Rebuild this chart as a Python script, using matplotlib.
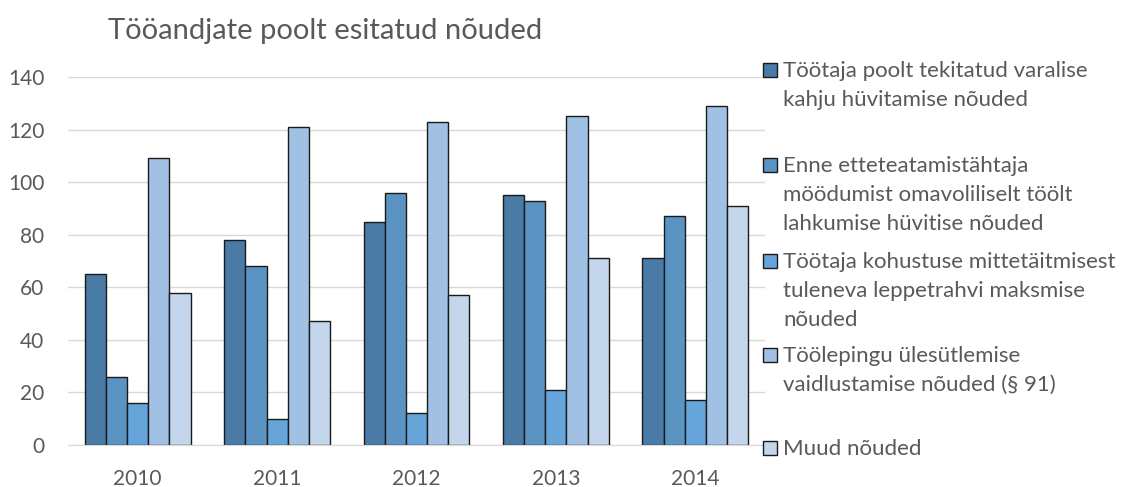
import matplotlib
matplotlib.use("Agg")
import matplotlib.pyplot as plt
from matplotlib.patches import Rectangle
import numpy as np

years = ["2010", "2011", "2012", "2013", "2014"]
series_labels = [
    "Töötaja poolt tekitatud varalise\nkahju hüvitamise nõuded",
    "Enne etteteatamistähtaja\nmöödumist omavoliliselt töölt\nlahkumise hüvitise nõuded",
    "Töötaja kohustuse mittetäitmisest\ntuleneva leppetrahvi maksmise\nnõuded",
    "Töölepingu ülesütlemise\nvaidlustamise nõuded (§ 91)",
    "Muud nõuded",
]
kahju = [65, 78, 85, 95, 71]
omavoliline = [26, 68, 96, 93, 87]
leppetrahv = [16, 10, 12, 21, 17]
ulesutlemine = [109, 121, 123, 125, 129]
muud = [58, 47, 57, 71, 91]
series = [kahju, omavoliline, leppetrahv, ulesutlemine, muud]
colors = ["#4A7BA7", "#5B93C3", "#66A5DA", "#A1C1E4", "#C4D6EC"]
yticks = [0, 20, 40, 60, 80, 100, 120, 140]

FONT = "Lato"
GREY = "#595959"

fig = plt.figure(figsize=(11.23, 4.87), dpi=100)
ax = fig.add_axes([68 / 1123, 1 - 445 / 487, (765 - 68) / 1123, (445 - 77) / 487])

x = np.arange(len(years))
bw = 0.152
n = len(series)
for i, (vals, col) in enumerate(zip(series, colors)):
    offs = (i - (n - 1) / 2) * bw
    ax.bar(x + offs, vals, width=bw, color=col, edgecolor="#1A1A1A",
           linewidth=1.0, zorder=3)

ax.set_xlim(-0.5, len(years) - 0.5)
ax.set_ylim(0, 140)
ax.set_yticks(yticks)
ax.set_yticklabels([str(v) for v in yticks], fontfamily=FONT, fontsize=15, color=GREY)
ax.set_xticks(x)
ax.set_xticklabels(years, fontfamily=FONT, fontsize=15, color=GREY)
ax.tick_params(axis="x", length=0, pad=17)
ax.tick_params(axis="y", length=0, pad=17)
ax.grid(axis="y", color="#D9D9D9", linewidth=1.0, zorder=0)
for s in ["top", "right", "left"]:
    ax.spines[s].set_visible(False)
ax.spines["bottom"].set_color("#D9D9D9")
ax.spines["bottom"].set_zorder(4)

fig.text(108 / 1123, 1 - 31 / 487, "Tööandjate poolt esitatud nõuded",
         fontfamily=FONT, fontsize=21, color=GREY, va="center", ha="left")

# legend: equally spaced slots, square beside the first line
slot_y = [70, 165, 261, 355, 448]
for lab, col, yc in zip(series_labels, colors, slot_y):
    fig.patches.append(Rectangle((763 / 1123, 1 - (yc + 7) / 487), 14 / 1123, 14 / 487,
                                 transform=fig.transFigure, facecolor=col,
                                 edgecolor="#1A1A1A", linewidth=1.0))
    fig.text(783 / 1123, 1 - (yc - 9) / 487, lab, fontfamily=FONT, fontsize=16,
             color=GREY, va="top", ha="left", linespacing=1.55)

fig.savefig("out.png", dpi=100)
